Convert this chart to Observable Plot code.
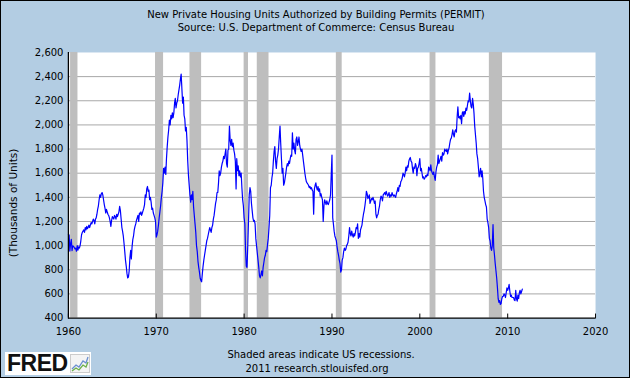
<!DOCTYPE html>
<html>
<head>
<meta charset="utf-8">
<script src="https://cdn.jsdelivr.net/npm/d3@7"></script>
<script src="https://cdn.jsdelivr.net/npm/@observablehq/plot@0.6"></script>
<style>
  html, body { margin: 0; padding: 0; }
  body { width: 630px; height: 378px; overflow: hidden; }
  #wrap { position: relative; width: 630px; height: 378px; box-sizing: border-box;
          border: 1px solid #000; background: #b3cde3; font-family: "DejaVu Sans", sans-serif; color: #000; }
  .t { position: absolute; left: 0; width: 630px; text-align: center; font-size: 10px; line-height: 14px; white-space: nowrap; }
  #chart { position: absolute; left: -1px; top: 39px; }
  #ylab { position: absolute; left: 12px; top: 202px; font-size: 10.5px; white-space: nowrap;
          transform: translate(-50%, -50%) rotate(-90deg); }
  #logo { position: absolute; left: 4px; top: 351px; width: 86px; height: 23px; background: #fff; }
  #logo span { position: absolute; left: 2px; top: -2px; font: bold 23px "Liberation Sans", sans-serif; letter-spacing: -0.5px; color: #111; }
  #logo svg { position: absolute; left: 65px; top: 2px; }
</style>
</head>
<body>
<div id="wrap">
  <div class="t" style="top:7px;">New Private Housing Units Authorized by Building Permits (PERMIT)</div>
  <div class="t" style="top:20px;">Source: U.S. Department of Commerce: Census Bureau</div>
  <div id="chart"></div>
  <div id="ylab">(Thousands of Units)</div>
  <div class="t" style="top:347px; left:5px;">Shaded areas indicate US recessions.</div>
  <div class="t" style="top:361px; left:1px;">2011 research.stlouisfed.org</div>
  <div id="logo"><span>FRED</span>
    <svg width="20" height="19" viewBox="0 0 20 19">
      <rect x="0.5" y="0.5" width="19" height="18" fill="#f4f4f4" stroke="#ccc"/>
      <polyline points="2,15 6,11 9,13 13,7 16,9 18,3" fill="none" stroke="#6a8fd0" stroke-width="1.3"/>
      <polyline points="2,17 6,14 9,16 13,11 16,13 18,8" fill="none" stroke="#6cb04a" stroke-width="1.3"/>
    </svg>
  </div>
</div>
<script>
// Monthly series, thousands of units (SAAR), starting January 1960
const startYear = 1960;
const permits = [
  // 1960
  1092, 1088, 955, 1016, 1052, 958, 999, 994, 984, 972, 979, 953,
  // 1961
  1000, 963, 990, 980, 1000, 1040, 1090, 1110, 1120, 1130, 1110, 1150,
  // 1962
  1130, 1160, 1140, 1150, 1170, 1150, 1170, 1190, 1180, 1200, 1220, 1210,
  // 1963
  1180, 1220, 1230, 1260, 1300, 1330, 1380, 1420, 1400, 1430, 1440, 1420,
  // 1964
  1380, 1340, 1310, 1270, 1300, 1280, 1260, 1250, 1230, 1200, 1160, 1210,
  // 1965
  1240, 1230, 1220, 1250, 1240, 1220, 1260, 1240, 1260, 1280, 1326, 1290,
  // 1966
  1220, 1150, 1120, 1080, 1020, 950, 880, 830, 770, 733, 740, 790,
  // 1967
  900, 960, 890, 990, 1050, 1080, 1130, 1160, 1180, 1210, 1230, 1250,
  // 1968
  1200, 1270, 1260, 1280, 1250, 1270, 1290, 1310, 1340, 1420, 1400, 1470,
  // 1969
  1490, 1450, 1460, 1380, 1400, 1360, 1300, 1310, 1270, 1250, 1230, 1200,
  // 1970
  1070, 1090, 1120, 1170, 1230, 1280, 1330, 1400, 1450, 1520, 1640, 1600,
  // 1971
  1650, 1590, 1720, 1820, 1900, 1960, 2040, 2000, 2080, 2050, 2100, 2060,
  // 1972
  2100, 2180, 2220, 2140, 2180, 2200, 2250, 2290, 2330, 2380, 2420, 2300,
  // 1973
  2180, 2230, 2080, 2050, 1950, 1980, 1870, 1700, 1580, 1500, 1420, 1360,
  // 1974
  1420, 1380, 1450, 1320, 1250, 1180, 1110, 1000, 950, 870, 820, 780,
  // 1975
  730, 710, 700, 770, 830, 880, 920, 960, 1000, 1040, 1060, 1090,
  // 1976
  1120, 1150, 1130, 1110, 1150, 1170, 1220, 1250, 1300, 1350, 1380, 1440,
  // 1977
  1440, 1520, 1620, 1580, 1600, 1650, 1680, 1700, 1740, 1720, 1760, 1800,
  // 1978
  1680, 1650, 1790, 1800, 1990, 1870, 1830, 1880, 1820, 1850, 1790, 1760,
  // 1979
  1700, 1470, 1720, 1620, 1660, 1580, 1620, 1570, 1600, 1480, 1380, 1330,
  // 1980
  1230, 1180, 960, 830, 820, 1000, 1200, 1420, 1480, 1450, 1350, 1290,
  // 1981
  1230, 1200, 1210, 1180, 1060, 1000, 940, 880, 820, 750, 733, 760,
  // 1982
  790, 750, 820, 860, 900, 920, 960, 950, 1010, 1060, 1150, 1250,
  // 1983
  1480, 1500, 1560, 1600, 1700, 1780, 1820, 1700, 1640, 1720, 1750, 1800,
  // 1984
  1900, 1990, 1850, 1720, 1600, 1640, 1500, 1520, 1560, 1600, 1650, 1680,
  // 1985
  1660, 1700, 1680, 1720, 1750, 1740, 1935, 1800, 1850, 1790, 1760, 1880,
  // 1986
  1900, 1830, 1860, 1900, 1830, 1800, 1780, 1800, 1750, 1700, 1650, 1600,
  // 1987
  1560, 1530, 1520, 1510, 1500, 1480, 1490, 1470, 1480, 1460, 1450, 1260,
  // 1988
  1470, 1500, 1520, 1480, 1460, 1490, 1450, 1470, 1410, 1430, 1400, 1380,
  // 1989
  1200, 1330, 1380, 1360, 1340, 1370, 1350, 1340, 1360, 1380, 1420, 1590,
  // 1990
  1750, 1230, 1180, 1120, 1080, 1060, 1040, 990, 950, 920, 880, 850,
  // 1991
  780, 800, 880, 900, 950, 980, 960, 970, 1000, 1010, 1030, 1080,
  // 1992
  1150, 1100, 1080, 1120, 1090, 1070, 1100, 1080, 1110, 1150, 1140, 1180,
  // 1993
  1060, 1100, 1070, 1130, 1150, 1170, 1220, 1260, 1290, 1330, 1380, 1450,
  // 1994
  1430, 1390, 1400, 1420, 1350, 1370, 1390, 1380, 1400, 1380, 1350, 1370,
  // 1995
  1260, 1230, 1250, 1260, 1300, 1330, 1380, 1410, 1400, 1370, 1420, 1430,
  // 1996
  1440, 1420, 1450, 1430, 1410, 1420, 1440, 1400, 1420, 1410, 1440, 1420,
  // 1997
  1410, 1420, 1410, 1400, 1430, 1450, 1480, 1450, 1500, 1490, 1530, 1540,
  // 1998
  1560, 1600, 1590, 1570, 1600, 1650, 1620, 1660, 1650, 1700, 1720, 1730,
  // 1999
  1700, 1690, 1640, 1600, 1650, 1640, 1680, 1660, 1580, 1640, 1650, 1680,
  // 2000
  1720, 1620, 1640, 1600, 1560, 1570, 1550, 1560, 1580, 1570, 1590, 1580,
  // 2001
  1650, 1640, 1620, 1670, 1620, 1600, 1590, 1610, 1570, 1540, 1610, 1650,
  // 2002
  1670, 1750, 1680, 1700, 1720, 1740, 1700, 1770, 1750, 1760, 1800, 1790,
  // 2003
  1780, 1800, 1760, 1790, 1810, 1850, 1880, 1890, 1920, 1960, 1920, 1900,
  // 2004
  1950, 1960, 1940, 2070, 2150, 2060, 2070, 2050, 2080, 2010, 2100, 2110,
  // 2005
  2070, 2110, 2090, 2140, 2120, 2160, 2200, 2190, 2263, 2200, 2150, 2140,
  // 2006
  2220, 2170, 2100, 1990, 1920, 1850, 1760, 1720, 1650, 1570, 1600, 1640,
  // 2007
  1570, 1620, 1560, 1450, 1400, 1370, 1340, 1320, 1220, 1190, 1150, 1060,
  // 2008
  1040, 980, 960, 1000, 1175, 980, 920, 850, 790, 730, 650, 560,
  // 2009
  530, 545, 513, 520, 560, 580, 580, 600, 590, 570, 610, 650,
  // 2010
  630, 650, 680, 620, 580, 590, 570, 570, 570, 550, 545, 630,
  // 2011
  560, 540, 590, 560, 610, 630, 600, 620, 640
];

// NBER recessions: peak month -> trough month
const recessionStart = ["1960-04", "1969-12", "1973-11", "1980-01", "1981-07", "1990-07", "2001-03", "2007-12"];
const recessionEnd   = ["1961-02", "1970-11", "1975-03", "1980-07", "1982-11", "1991-03", "2001-11", "2009-06"];

const xTickYears = [1960, 1970, 1980, 1990, 2000, 2010, 2020];
const yTicks = [400, 600, 800, 1000, 1200, 1400, 1600, 1800, 2000, 2200, 2400, 2600];
const gridValues = [600, 800, 1000, 1200, 1400, 1600, 1800, 2000, 2200, 2400];

const parseYM = d3.utcParse("%Y-%m");
const data = permits.map((v, i) => ({date: new Date(Date.UTC(startYear, i, 1)), value: v}));
const recessions = recessionStart.map((s, i) => ({start: parseYM(s), end: parseYM(recessionEnd[i])}));
const xTicks = xTickYears.map(y => new Date(Date.UTC(y, 0, 1)));
const xDomain = [xTicks[0], xTicks[xTicks.length - 1]];

const chart = Plot.plot({
  width: 630,
  height: 306,
  marginLeft: 68,
  marginRight: 34,
  marginTop: 12,
  marginBottom: 28,
  style: {background: "transparent", fontFamily: "DejaVu Sans, sans-serif", fontSize: "10px", color: "#000", overflow: "visible"},
  x: {type: "utc", domain: xDomain},
  y: {domain: [400, 2600]},
  marks: [
    Plot.frame({fill: "white", stroke: null}),
    Plot.ruleY(gridValues, {stroke: "#a8a8a8", strokeWidth: 1}),
    Plot.rect(recessions, {x1: "start", x2: "end", fill: "#bebebe"}),
    Plot.line(data, {x: "date", y: "value", stroke: "#0000ff", strokeWidth: 1.2}),
    Plot.ruleY([400], {stroke: "#000", strokeWidth: 1.3}),
    Plot.ruleX([xDomain[0]], {stroke: "#000", strokeWidth: 1.3}),
    Plot.axisX(xTicks, {anchor: "top", frameAnchor: "bottom", tickSize: 5, tickFormat: () => "", label: null, stroke: "#000"}),
    Plot.axisX(xTicks, {anchor: "bottom", tickSize: 0, tickPadding: 10, tickFormat: d3.utcFormat("%Y"), label: null}),
    Plot.axisY(yTicks, {anchor: "left", tickSize: 0, tickPadding: 5, tickFormat: d3.format(","), label: null})
  ]
});
document.getElementById("chart").appendChild(chart);
</script>
</body>
</html>
